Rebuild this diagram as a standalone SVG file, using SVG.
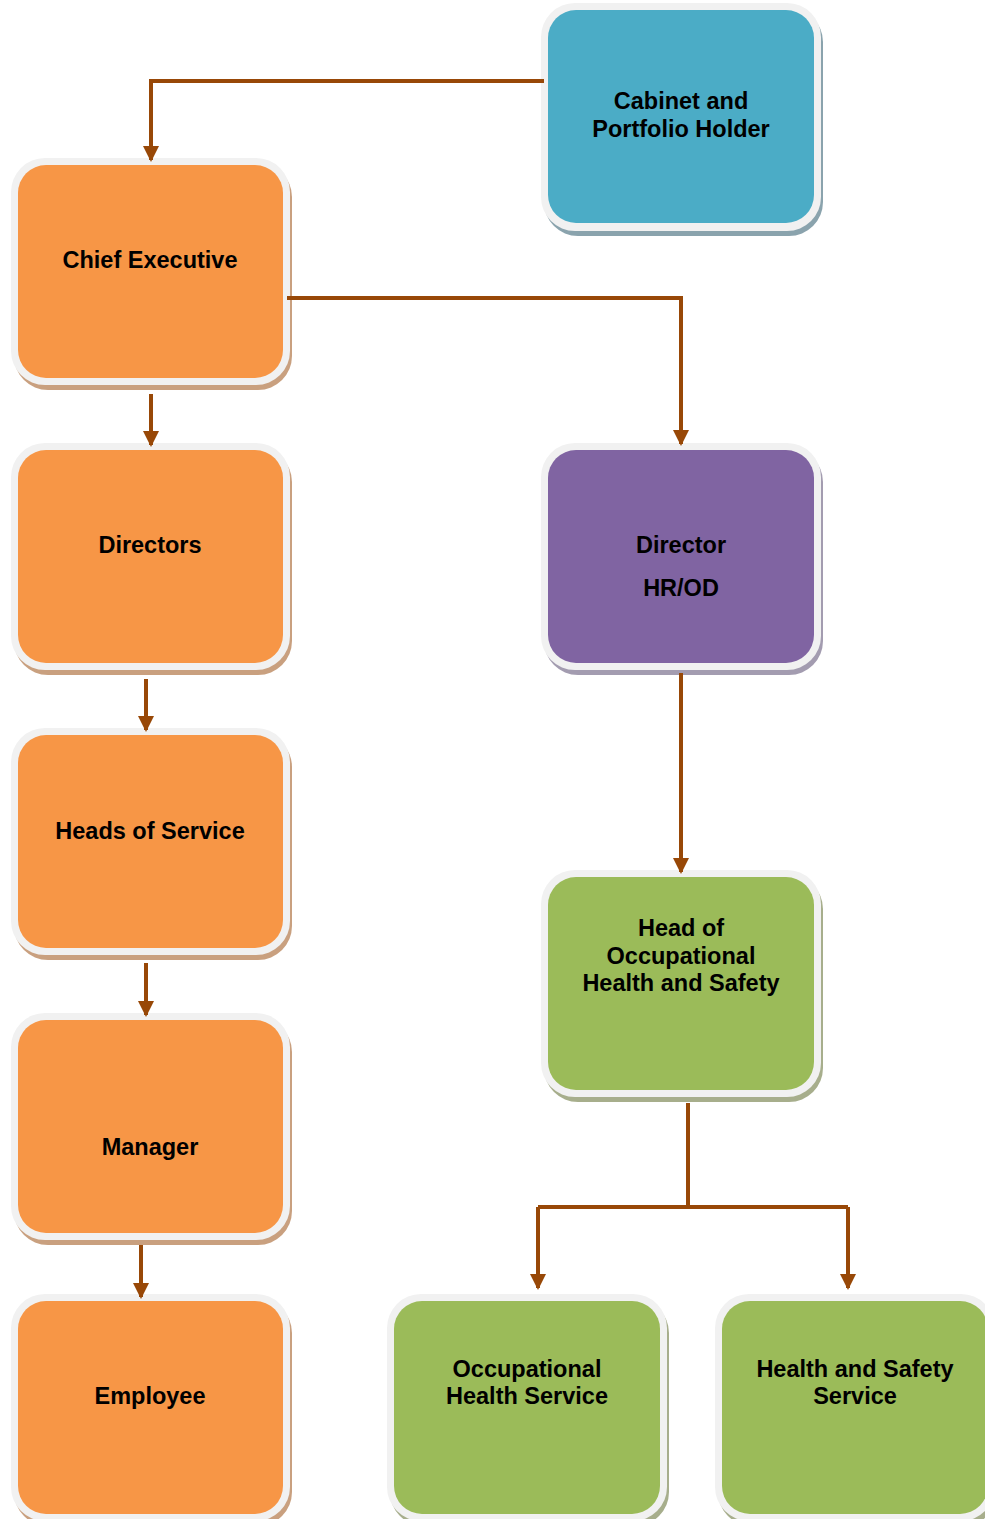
<svg xmlns="http://www.w3.org/2000/svg" width="985" height="1519" viewBox="0 0 985 1519">
<defs>
<style>
.frame{fill:#f1f1f1}
.t{font-family:"Liberation Sans",Arial,sans-serif;font-weight:bold;font-size:23.5px;fill:#000;text-anchor:middle}
.c{fill:none;stroke:#984807;stroke-width:4}
.orange{fill:#f79646}.os{fill:#c9a07f}
.blue{fill:#4bacc6}.bs{fill:#8aa3ad}
.purple{fill:#8064a2}.ps{fill:#a39cb0}
.green{fill:#9bbb59}.gs{fill:#a7ae8c}
</style>
<marker id="ah" markerWidth="4" markerHeight="4" refX="3.5" refY="2" orient="auto" markerUnits="strokeWidth">
<path d="M0,0 L4,2 L0,4 z" fill="#984807"/>
</marker>
</defs>
<rect width="985" height="1519" fill="#fff"/>
<g id="cabinet">
<rect class="bs" x="544" y="8" width="279" height="228" rx="34"/>
<rect class="frame" x="541" y="3" width="280" height="228" rx="34"/>
<rect class="blue" x="548" y="10" width="266" height="213" rx="28"/>
<text class="t" x="681" y="109">Cabinet and</text>
<text class="t" x="681" y="137">Portfolio Holder</text>
</g>
<g id="chief">
<rect class="os" x="14" y="163" width="278" height="227" rx="34"/>
<rect class="frame" x="11" y="158" width="279" height="227" rx="34"/>
<rect class="orange" x="18" y="165" width="265" height="213" rx="28"/>
<text class="t" x="150" y="268">Chief Executive</text>
</g>
<g id="directors">
<rect class="os" x="14" y="448" width="278" height="227" rx="34"/>
<rect class="frame" x="11" y="443" width="279" height="227" rx="34"/>
<rect class="orange" x="18" y="450" width="265" height="213" rx="28"/>
<text class="t" x="150" y="553">Directors</text>
</g>
<g id="heads">
<rect class="os" x="14" y="733" width="278" height="227" rx="34"/>
<rect class="frame" x="11" y="728" width="279" height="227" rx="34"/>
<rect class="orange" x="18" y="735" width="265" height="213" rx="28"/>
<text class="t" x="150" y="839">Heads of Service</text>
</g>
<g id="manager">
<rect class="os" x="14" y="1018" width="278" height="227" rx="34"/>
<rect class="frame" x="11" y="1013" width="279" height="227" rx="34"/>
<rect class="orange" x="18" y="1020" width="265" height="213" rx="28"/>
<text class="t" x="150" y="1155">Manager</text>
</g>
<g id="employee">
<rect class="os" x="14" y="1299" width="278" height="227" rx="34"/>
<rect class="frame" x="11" y="1294" width="279" height="227" rx="34"/>
<rect class="orange" x="18" y="1301" width="265" height="213" rx="28"/>
<text class="t" x="150" y="1404">Employee</text>
</g>
<g id="hrod">
<rect class="ps" x="544" y="448" width="279" height="227" rx="34"/>
<rect class="frame" x="541" y="443" width="280" height="227" rx="34"/>
<rect class="purple" x="548" y="450" width="266" height="213" rx="28"/>
<text class="t" x="681" y="553">Director</text>
<text class="t" x="681" y="596">HR/OD</text>
</g>
<g id="headohs">
<rect class="gs" x="544" y="875" width="279" height="227" rx="34"/>
<rect class="frame" x="541" y="870" width="280" height="227" rx="34"/>
<rect class="green" x="548" y="877" width="266" height="213" rx="28"/>
<text class="t" x="681" y="936">Head of</text>
<text class="t" x="681" y="964">Occupational</text>
<text class="t" x="681" y="991">Health and Safety</text>
</g>
<g id="ohs">
<rect class="gs" x="390" y="1299" width="279" height="227" rx="34"/>
<rect class="frame" x="387" y="1294" width="280" height="227" rx="34"/>
<rect class="green" x="394" y="1301" width="266" height="213" rx="28"/>
<text class="t" x="527" y="1377">Occupational</text>
<text class="t" x="527" y="1404">Health Service</text>
</g>
<g id="hss">
<rect class="gs" x="718" y="1299" width="279" height="227" rx="34"/>
<rect class="frame" x="715" y="1294" width="280" height="227" rx="34"/>
<rect class="green" x="722" y="1301" width="266" height="213" rx="28"/>
<text class="t" x="855" y="1377">Health and Safety</text>
<text class="t" x="855" y="1404">Service</text>
</g>
<g id="connectors">
<path class="c" d="M544,81 H151 V160" marker-end="url(#ah)"/>
<path class="c" d="M287,298 H681 V444" marker-end="url(#ah)"/>
<path class="c" d="M151,394 V445" marker-end="url(#ah)"/>
<path class="c" d="M146,679 V730" marker-end="url(#ah)"/>
<path class="c" d="M146,963 V1015" marker-end="url(#ah)"/>
<path class="c" d="M141,1245 V1297" marker-end="url(#ah)"/>
<path class="c" d="M681,673 V872" marker-end="url(#ah)"/>
<path class="c" d="M688,1103 V1207"/>
<path class="c" d="M538,1207 H848"/>
<path class="c" d="M538,1207 V1288" marker-end="url(#ah)"/>
<path class="c" d="M848,1207 V1288" marker-end="url(#ah)"/>
</g>
</svg>
